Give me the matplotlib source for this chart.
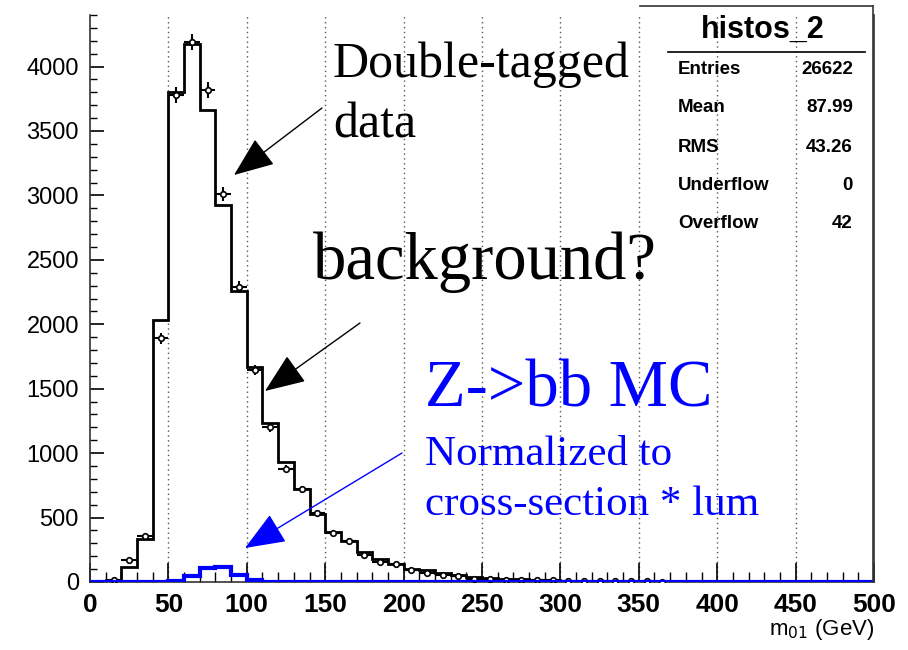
import numpy as np
import matplotlib
matplotlib.use("Agg")
import matplotlib.pyplot as plt
from matplotlib.lines import Line2D

# ---------------- data ----------------
bin_edges = list(range(0, 510, 10))

hist_counts = [0, 12, 120, 335, 2035, 3805, 4175, 3665, 2925, 2260,
               1665, 1235, 930, 725, 530, 390, 315, 235, 175, 143,
               104, 90, 68, 55, 40, 33, 26, 20, 18, 15,
               8, 6, 5, 4, 3, 2, 2, 1, 1, 1,
               0, 0, 0, 0, 0, 0, 0, 0, 0, 0]

data_counts = [0, 15, 168, 357, 1890, 3780, 4190, 3815, 3010, 2290,
               1645, 1200, 880, 720, 535, 378, 322, 207, 155, 143,
               91, 73, 55, 48, 25, 20, 15, 15, 12, 14,
               8, 6, 7, 5, 4, 5, 3, 0, 0, 0,
               0, 0, 0, 0, 0, 0, 0, 0, 0, 0]

zbb_counts = [0, 0, 0, 0, 0, 10, 45, 108, 117, 57,
              12, 0, 0, 0, 0, 0, 0, 0, 0, 0,
              0, 0, 0, 0, 0, 0, 0, 0, 0, 0,
              0, 0, 0, 0, 0, 0, 0, 0, 0, 0,
              0, 0, 0, 0, 0, 0, 0, 0, 0, 0]

stat_labels = ["Entries", "Mean", "RMS", "Underflow", "Overflow"]
stat_values = ["26622", "87.99", "43.26", "0", "42"]

x_ticks = [0, 50, 100, 150, 200, 250, 300, 350, 400, 450, 500]
y_ticks = [0, 500, 1000, 1500, 2000, 2500, 3000, 3500, 4000]

# ---------------- figure ----------------
W, H = 908, 650
fig = plt.figure(figsize=(W / 100, H / 100), dpi=100)

def fx(px):
    return px / W

def fy(py):
    return 1 - py / H

ax = fig.add_axes([fx(90), fy(582), fx(874) - fx(90), fy(15) - fy(582)])
ax.set_xlim(0, 500)
ax.set_ylim(0, 4400)

edges = np.array(bin_edges, dtype=float)
centers = 0.5 * (edges[:-1] + edges[1:])
hc = np.array(hist_counts, dtype=float)
dc = np.array(data_counts, dtype=float)
zc = np.array(zbb_counts, dtype=float)

# grid (vertical dotted)
for xv in x_ticks[1:-1]:
    ax.axvline(xv, color="#555555", lw=1.0, ls=(0, (1, 2.5)), zorder=0)

ax.stairs(hc, edges, color="black", lw=2.0, zorder=2)

mask = dc > 0
ax.errorbar(centers[mask], dc[mask], yerr=np.sqrt(dc[mask]), xerr=5,
            fmt="o", ms=4, mfc="white", mec="black", mew=1.2,
            ecolor="black", elinewidth=1.5, capsize=0, zorder=3)

ax.stairs(zc, edges, color="#0000ff", lw=3.0, zorder=4)

# spines / ticks
ax.spines["top"].set_visible(False)
for s in ["left", "right", "bottom"]:
    ax.spines[s].set_linewidth(1.2)
    ax.spines[s].set_color("#333333")

ax.set_xticks(x_ticks)
ax.set_yticks(y_ticks)
ax.set_xticks(np.arange(0, 501, 10), minor=True)
ax.set_yticks(np.arange(0, 4401, 100), minor=True)
ax.tick_params(axis="x", which="major", direction="in", length=14, width=1.2,
               pad=8, top=False)
ax.tick_params(axis="x", which="minor", direction="in", length=7, width=1.0,
               top=False)
ax.tick_params(axis="y", which="major", direction="in", length=10, width=1.2,
               pad=8, right=False)
ax.tick_params(axis="y", which="minor", direction="in", length=5, width=1.0,
               right=False)

ax.set_xticklabels([str(v) for v in x_ticks],
                   fontdict=dict(family=["Liberation Sans Narrow", "Liberation Sans"],
                                 weight="bold", size=19))
ax.set_yticklabels([str(v) for v in y_ticks],
                   fontdict=dict(family="Liberation Sans", size=17))

fig.text(fx(874), fy(630), r"m$_{01}$ (GeV)", ha="right", va="center",
         family=["Liberation Sans Narrow", "Liberation Sans"], size=16)

# ---------------- stats box ----------------
fig.add_artist(Line2D([fx(640), fx(873)], [fy(6), fy(6)], color="#333333", lw=1.2))
fig.add_artist(Line2D([fx(873), fx(873)], [fy(6), fy(582)], color="#333333", lw=1.2))
fig.text(fx(763), fy(30), "histos_2", ha="center", va="center",
         family="Liberation Sans", weight="bold", size=22)
fig.add_artist(Line2D([fx(668), fx(865)], [fy(52), fy(52)], color="black", lw=1.2))
row_y = [69, 108, 147, 185, 223]
for lab, val, yy in zip(stat_labels, stat_values, row_y):
    fig.text(fx(678), fy(yy), lab, ha="left", va="center",
             family="Liberation Sans", weight="bold", size=13.5)
    fig.text(fx(853), fy(yy), val, ha="right", va="center",
             family="Liberation Sans", weight="bold", size=13.5)

# ---------------- annotations ----------------
serif = "Liberation Serif"
fig.text(fx(333), fy(65), "Double-tagged", ha="left", va="center",
         family=serif, size=36)
fig.text(fx(333), fy(125), "data", ha="left", va="center",
         family=serif, size=36)
fig.text(fx(313), fy(262), "background?", ha="left", va="center",
         family=serif, size=48)
fig.text(fx(425), fy(390), "Z->bb MC", ha="left", va="center",
         family=serif, size=48, color="#0000ff")
fig.text(fx(425), fy(455), "Normalized to", ha="left", va="center",
         family=serif, size=31, color="#0000ff")
fig.text(fx(425), fy(505), "cross-section * lum", ha="left", va="center",
         family=serif, size=31, color="#0000ff")

def arrow(x0, y0, x1, y1, color):
    fig.add_artist(matplotlib.patches.FancyArrowPatch(
        (fx(x0), fy(y0)), (fx(x1), fy(y1)), transform=fig.transFigure,
        arrowstyle="-|>,head_length=1.5,head_width=0.6", mutation_scale=17,
        color=color, lw=1.0, shrinkA=0, shrinkB=0))

arrow(322, 108, 234, 175, "black")
arrow(360, 323, 265, 391, "black")
arrow(402, 453, 245, 548, "#0000ff")

fig.savefig("out.png", dpi=100)
